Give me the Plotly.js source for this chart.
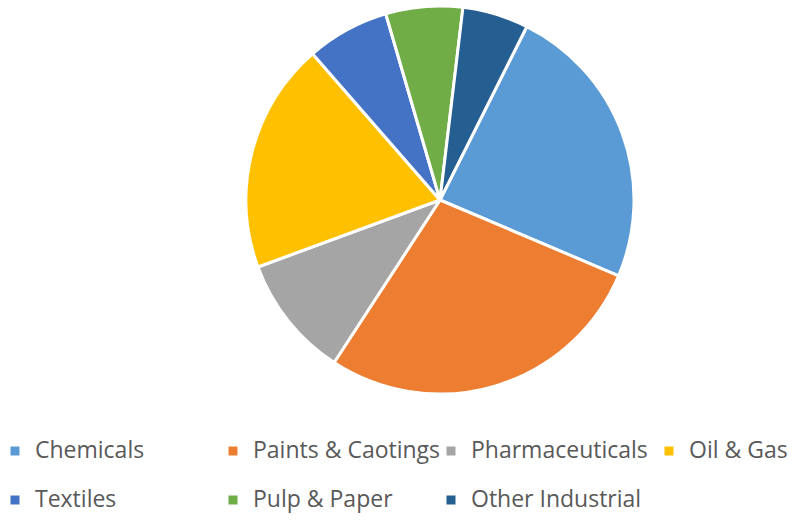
<!DOCTYPE html>
<html>
<head>
<meta charset="utf-8">
<script src="https://cdn.plot.ly/plotly-3.0.1.min.js"></script>
<style>
html,body{margin:0;padding:0;background:#fff;}
#frame{width:800px;height:527px;overflow:hidden;position:relative;}
#chart{width:920px;height:600px;margin-left:-20px;}
</style>
</head>
<body>
<div id="frame"><div id="chart"></div></div>
<script>
// Data (share of market, %)
const categories = ['Chemicals', 'Paints & Caotings', 'Pharmaceuticals', 'Oil & Gas', 'Textiles', 'Pulp & Paper', 'Other Industrial'];
const shares = [24.0, 27.8, 10.2, 19.2, 6.9, 6.4, 5.5];
const sliceColors = ['#5B9BD5', '#ED7D31', '#A5A5A5', '#FFC000', '#4472C4', '#70AD47', '#255E91'];

const labels = categories.map(c => '<span style="font-size:23px">' + c + '</span><br> ');

const SHIFT = 20, W = 920, H = 600, PLOT_H = 397;

const trace = {
  type: 'pie',
  labels: labels,
  values: shares,
  sort: false,
  direction: 'clockwise',
  rotation: 26.6,
  textinfo: 'none',
  hoverinfo: 'percent',
  marker: {colors: sliceColors, line: {color: '#ffffff', width: 3}},
  domain: {x: [(246 + SHIFT) / W, (634 + SHIFT) / W], y: [1 - 394 / PLOT_H, 1 - 6 / PLOT_H]}
};

const layout = {
  width: W,
  height: H,
  margin: {l: 0, r: 0, t: 0, b: H - PLOT_H},
  paper_bgcolor: '#ffffff',
  showlegend: true,
  legend: {
    orientation: 'h',
    x: (SHIFT - 5) / W, xanchor: 'left',
    y: (PLOT_H - 433) / PLOT_H, yanchor: 'top',
    entrywidth: 173, entrywidthmode: 'pixels',
    valign: 'top',
    font: {family: 'Open Sans, sans-serif', size: 17.7, color: '#595959'}
  }
};

Plotly.newPlot('chart', [trace], layout, {displayModeBar: false, staticPlot: true});
</script>
</body>
</html>
